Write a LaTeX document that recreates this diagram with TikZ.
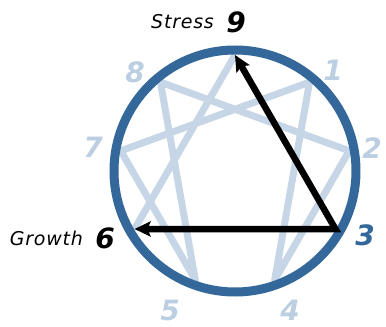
\documentclass[tikz,border=0pt]{standalone}
\usepackage{fontspec}
\setmainfont{DejaVu Sans}
\usetikzlibrary{arrows.meta,positioning}
\definecolor{rimblue}{HTML}{34689A}
\definecolor{paleblue}{HTML}{C6D6E6}
\definecolor{numblue}{HTML}{BCCFE2}
\tikzset{
  rim/.style={draw=rimblue,line width=9pt},
  hexad/.style={draw=paleblue,line width=7pt,line join=round},
  arr/.style={{Stealth[length=16pt,width=15pt,inset=3pt]}-{Stealth[length=16pt,width=15pt,inset=3pt]},
              line width=6.5pt,black,line join=miter},
  numlbl/.style={font=\fontsize{28}{28}\selectfont\bfseries\itshape,inner sep=0pt},
  tag/.style={font=\fontsize{19}{19}\selectfont\itshape\addfontfeature{LetterSpace=4},inner sep=0pt},
}
\begin{document}
\begin{tikzpicture}[x=1pt,y=1pt]
  \useasboundingbox (-235,-156) rectangle (151,171);
  \coordinate (c) at (0,0);
  % points of the enneagram, 9 on top, clockwise
  \foreach \n in {1,...,9}{\coordinate (p\n) at ({90-40*\n}:116pt);}

  \draw[hexad] (p1)--(p4)--(p2)--(p8)--(p5)--(p7)--cycle;
  \draw[hexad] (p9)--(p6);
  \draw[rim] (c) circle[radius=121pt];
  \draw[arr] (p9)--(p3)--(p6);

  % number labels
  \foreach \n/\x/\y/\col in {1/98/101/numblue,2/137/23/numblue,3/130/-64/rimblue,
      4/55/-139/numblue,5/-65/-139/numblue,6/-130/-67/black,7/-142/24/numblue,
      8/-100/99/numblue,9/1/149/black}
    {\node[numlbl,text=\col] (n\n) at (\x,\y) {\n};}
  \node[tag,left=12pt of n9] (stress) {Stress};
  \node[tag,left=12pt of n6] (growth) {Growth};
\end{tikzpicture}
\end{document}
